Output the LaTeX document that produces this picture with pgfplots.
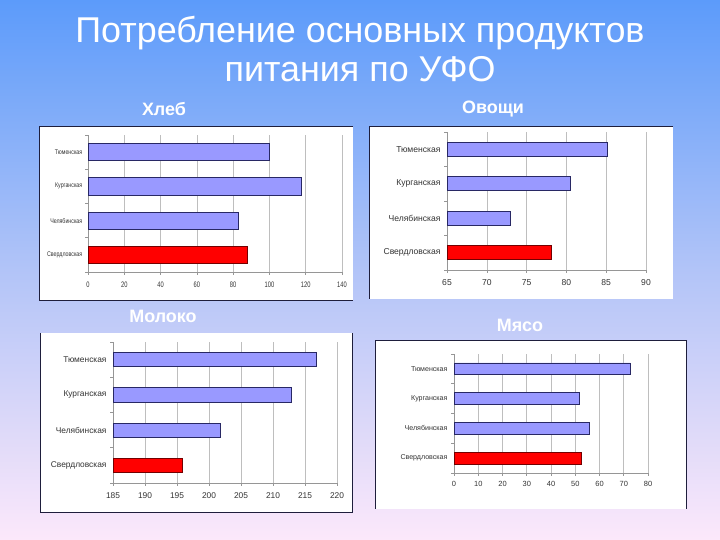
\documentclass[border=0pt]{standalone}
\usepackage{fontspec}
\setmainfont{Liberation Sans}
\usepackage{pgfplots}
\pgfplotsset{compat=1.18}
\definecolor{bgtop}{RGB}{92,155,250}
\definecolor{bgmid}{RGB}{178,196,248}
\definecolor{bgbot}{RGB}{252,232,250}
\definecolor{barblue}{RGB}{153,153,255}
\definecolor{barred}{RGB}{255,0,0}
\definecolor{edge}{RGB}{40,40,100}
\definecolor{gridc}{RGB}{190,190,190}
\definecolor{axc}{RGB}{150,150,150}
\definecolor{frame}{RGB}{30,30,60}

\pgfplotsset{
  panel/.style={
    scale only axis, anchor=south west,
    xbar, bar shift=0pt, bar width=0.4,
    ymin=-0.5, ymax=3.5,
    ytick={-0.5,0.5,1.5,2.5,3.5},
    yticklabels={Свердловская,Челябинская,Курганская,Тюменская},
    y tick label as interval,
    axis x line*=bottom, axis y line*=left,
    axis line style={axc},
    xmajorgrids, grid style={gridc, line width=0.6bp},
    tick style={axc, line width=0.6bp},
    tick align=outside, major tick length=3bp,
    /pgf/number format/assume math mode=true,
    clip=false,
  },
  blueb/.style={fill=barblue, draw=edge, line width=0.7bp},
  redb/.style={fill=barred, draw=black!55!red, line width=0.7bp},
}

\begin{document}
\begin{tikzpicture}[x=1bp,y=1bp]
\shade[top color=bgtop, bottom color=bgbot, middle color=bgmid] (0,0) rectangle (720,540);

% title
\node[align=center, text=white, font=\fontsize{36}{40}\selectfont] at (360,491)
  {Потребление основных продуктов\\питания по УФО};

% panel titles
\node[text=white, font=\bfseries\fontsize{18}{20}\selectfont] at (164,431) {Хлеб};
\node[text=white, font=\bfseries\fontsize{18}{20}\selectfont] at (493,431) {Овощи};
\node[text=white, font=\bfseries\fontsize{18}{20}\selectfont] at (163,224) {Молоко};
\node[text=white, font=\bfseries\fontsize{18}{20}\selectfont] at (520,215) {Мясо};

% panels
\fill[white] (39,240) rectangle (353,414);
\draw[frame, line width=0.8bp] (353,414) -- (39,414) -- (39,240) -- (353,240);
\fill[white] (369,241) rectangle (673,414);
\draw[frame, line width=0.8bp] (673,414) -- (369,414) -- (369,241);
\fill[white] (40,28) rectangle (352,207);
\draw[frame, line width=0.8bp] (40,207) -- (40,28) -- (352,28) -- (352,207);
\fill[white] (375,31) rectangle (686,200);
\draw[frame, line width=0.8bp] (375,31) -- (375,200) -- (686,200) -- (686,31);

% Хлеб
\begin{axis}[panel, at={(88bp,268bp)}, width=254bp, height=137bp,
  bar width=0.5,
  xmin=0, xmax=140, xtick={0,20,...,140},
  yticklabel style={font=\fontsize{6.8}{7}\selectfont, xscale=0.78, text=black!80},
  xticklabel style={font=\fontsize{8}{9}\selectfont, xscale=0.72, text=black!80, yshift=-3bp}]
\addplot[blueb] coordinates {(83,1) (117.6,2) (100,3)};
\addplot[redb] coordinates {(87.7,0)};
\end{axis}

% Овощи
\begin{axis}[panel, at={(447bp,270bp)}, width=199bp, height=138bp,
  xmin=65, xmax=90, xtick={65,70,...,90},
  yticklabel style={font=\fontsize{8.6}{10}\selectfont, text=black!80},
  xticklabel style={font=\fontsize{8.6}{10}\selectfont, text=black!80, yshift=-3bp}]
\addplot[blueb] coordinates {(72.9,1) (80.5,2) (85.1,3)};
\addplot[redb] coordinates {(78.1,0)};
\end{axis}

% Молоко
\begin{axis}[panel, at={(113bp,57bp)}, width=224bp, height=141bp,
  xmin=185, xmax=220, xtick={185,190,...,220},
  yticklabel style={font=\fontsize{8.4}{10}\selectfont, text=black!80},
  xticklabel style={font=\fontsize{8.4}{10}\selectfont, text=black!80, yshift=-3bp}]
\addplot[blueb] coordinates {(201.8,1) (212.9,2) (216.7,3)};
\addplot[redb] coordinates {(195.8,0)};
\end{axis}

% Мясо
\begin{axis}[panel, at={(454bp,67bp)}, width=194bp, height=119bp,
  xmin=0, xmax=80, xtick={0,10,...,80},
  yticklabel style={font=\fontsize{7.1}{8}\selectfont, text=black!80},
  xticklabel style={font=\fontsize{7.5}{8}\selectfont, text=black!80, yshift=-2bp}]
\addplot[blueb] coordinates {(55.9,1) (51.7,2) (72.7,3)};
\addplot[redb] coordinates {(52.5,0)};
\end{axis}
\end{tikzpicture}
\end{document}
